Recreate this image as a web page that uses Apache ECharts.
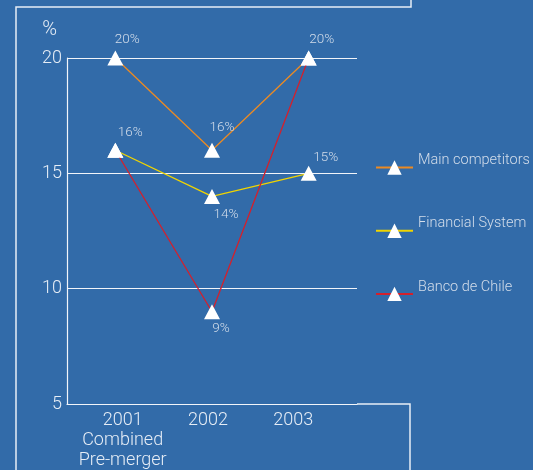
<!DOCTYPE html>
<html><head><meta charset="utf-8">
<script src="https://cdn.jsdelivr.net/npm/echarts@6/dist/echarts.min.js"></script>
<style>html,body{margin:0;padding:0;background:#326ba9}#c{width:533px;height:470px}</style>
</head><body><div id="c"></div>
<script>
// ---- data ----
const categories = ['2001', '2002', '2003'];
const tickLabels = ['2001\nCombined\nPre-merger', '2002', '2003'];
const seriesNames = ['Main competitors', 'Financial System', 'Banco de Chile'];
const mainCompetitors = [20, 16, 20];
const financialSystem = [16, 14, 15];
const bancoDeChile = [16, 9, 20];
const yMin = 5, yMax = 20, yStep = 5;

// ---- styles (kept separate from data) ----
const colors = ['#ec8a22', '#f0d400', '#d4202c'];
const labelOffsets = [
  [[12, -18], [10, -23], [13, -18]],
  [[15, -18], [14, 18], [17, -16]],
  [null, [9, 17], null]
];
const FONT = 'Roboto';
const textCol = '#e6edf6';
const labelCol = '#d3ddea';

function buildData(values, offs) {
  return values.map((v, i) => {
    const o = offs[i];
    return {
      value: v,
      label: o ? { show: true, position: 'inside', offset: o } : { show: false }
    };
  });
}

const allValues = [mainCompetitors, financialSystem, bancoDeChile];
const series = allValues.map((vals, k) => ({
  name: seriesNames[k],
  type: 'line',
  xAxisIndex: 0, yAxisIndex: 0,
  data: buildData(vals, labelOffsets[k]),
  symbol: 'triangle',
  symbolSize: [16, 15],
  showAllSymbol: true,
  itemStyle: { color: '#ffffff' },
  lineStyle: { color: colors[k], width: 1.3 },
  label: {
    formatter: p => p.value + '%',
    color: labelCol, fontSize: 13.5, fontFamily: FONT, fontWeight: 300,
    align: 'center', verticalAlign: 'middle'
  },
  emphasis: { disabled: true },
  animation: false,
  z: 3 + k
}));

const chart = echarts.init(document.getElementById('c'), null, { renderer: 'canvas' });
chart.setOption({
  backgroundColor: '#326ba9',
  animation: false,
  grid: [
    { left: 67, right: 176, top: 58, bottom: 66 },
    { left: 80, right: 197, top: 300, bottom: 66 }
  ],
  xAxis: [
    {
      type: 'category', gridIndex: 0, data: categories, boundaryGap: true,
      axisLine: { show: true, lineStyle: { color: '#f2f5fa', width: 1.2 } },
      axisTick: { show: false }, axisLabel: { show: false }, splitLine: { show: false }
    },
    {
      type: 'category', gridIndex: 1, data: tickLabels, boundaryGap: true,
      axisLine: { show: false }, axisTick: { show: false }, splitLine: { show: false },
      axisLabel: {
        show: true, margin: 8, color: textCol, fontSize: 18, lineHeight: 20,
        fontFamily: FONT, fontWeight: 300, interval: 0
      }
    }
  ],
  yAxis: [
    {
      type: 'value', gridIndex: 0, min: yMin, max: yMax, interval: yStep,
      name: '%', nameLocation: 'end', nameGap: 18,
      nameTextStyle: { color: textCol, fontSize: 20, fontFamily: FONT, fontWeight: 300, align: 'right', padding: [0, 10, 0, 0] },
      axisLine: { show: true, lineStyle: { color: '#f2f5fa', width: 1.2 } },
      axisTick: { show: false },
      axisLabel: { color: textCol, fontSize: 18, fontFamily: FONT, fontWeight: 300, margin: 5 },
      splitLine: { show: true, lineStyle: { color: '#f2f5fa', width: 1.2 } }
    },
    {
      type: 'value', gridIndex: 1, show: false, min: 0, max: 1
    }
  ],
  legend: {
    orient: 'vertical', left: 375, top: 153, padding: 0,
    itemWidth: 37, itemHeight: 18, itemGap: 41.5,
    data: seriesNames,
    selectedMode: false,
    formatter: name => '{t|' + name + '}',
    textStyle: {
      color: labelCol, fontSize: 14.5, fontFamily: FONT, fontWeight: 300,
      rich: { t: { color: labelCol, fontSize: 14.5, fontFamily: FONT, fontWeight: 300, padding: [0, 0, 14, 0] } }
    }
  },
  graphic: [
    { type: 'polyline', silent: true, shape: { points: [[411, 0], [411, 7], [16, 7], [16, 470]] },
      style: { stroke: '#e8eef6', lineWidth: 1.5, fill: null } },
    { type: 'polyline', silent: true, shape: { points: [[357, 404], [410, 404], [410, 470]] },
      style: { stroke: '#e8eef6', lineWidth: 1.5, fill: null } }
  ],
  series: series
});
</script>
</body></html>
